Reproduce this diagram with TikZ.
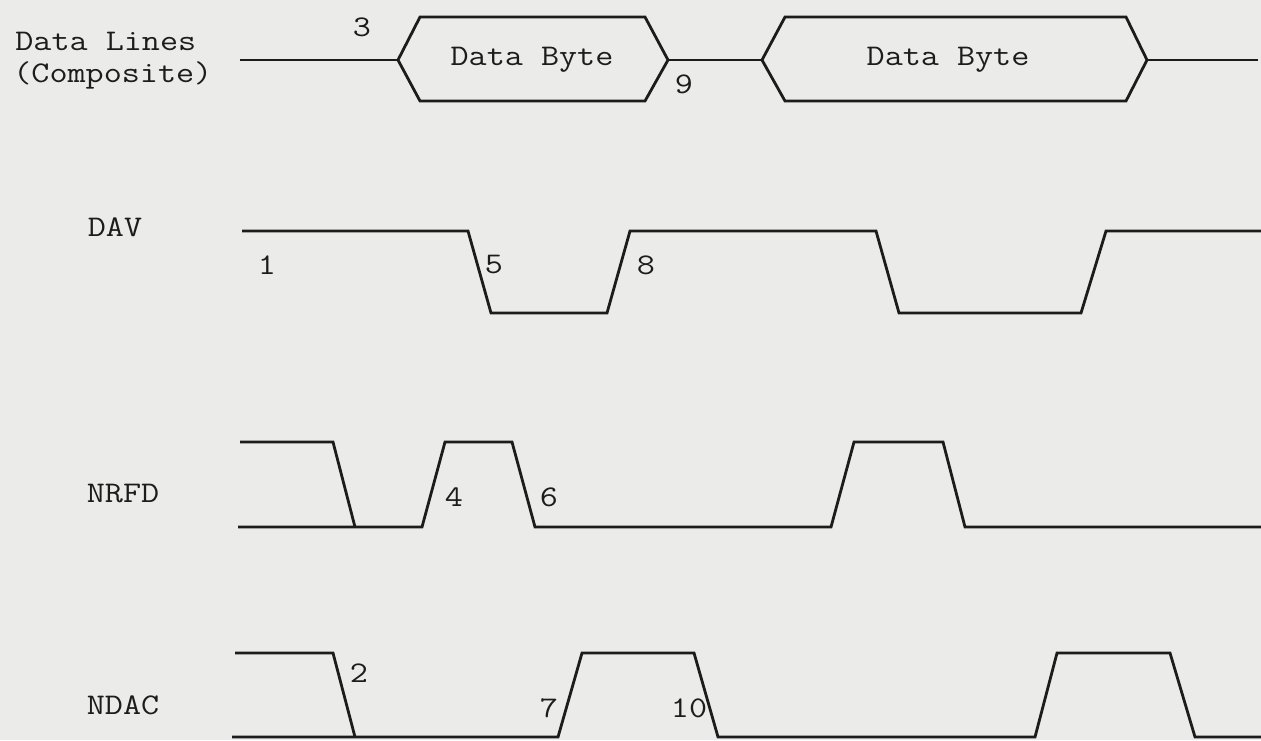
\documentclass[tikz,border=0pt]{standalone}
\usepackage{fontspec}
\setmonofont[FakeStretch=1.17]{Latin Modern Mono}
\definecolor{paper}{RGB}{235,235,233}
\definecolor{ink}{RGB}{28,28,28}
\tikzset{
  wave/.style={draw=ink,line width=1.4pt,line join=miter},
  lbl/.style={font=\ttfamily\fontsize{15}{16}\selectfont,text=ink,inner sep=0pt},
}
\begin{document}
\begin{tikzpicture}[x=0.5pt,y=-0.5pt]
  \fill[paper] (0,0) rectangle (1261,740);
  \useasboundingbox (0,0) rectangle (1261,740);

  % data lines
  \node[lbl,anchor=base west] (dlines) at (15,50) {Data Lines};
  \node[lbl,anchor=base west] (dcomp) at (13,82) {(Composite)};
  \draw[wave] (240,60) -- (398,60);
  \draw[wave] (398,60) -- (420,17) -- (645,17) -- (668,60) -- (645,101) -- (420,101) -- cycle;
  \draw[wave] (668,60) -- (762,60);
  \draw[wave] (762,60) -- (785,17) -- (1126,17) -- (1147,60) -- (1126,101) -- (785,101) -- cycle;
  \draw[wave] (1147,60) -- (1258,60);
  \node[lbl] (byteA) at (532,60) {Data Byte};
  \node[lbl] (byteB) at (948,60) {Data Byte};
  \node[lbl] (n3) at (362,27) {3};
  \node[lbl] (n9) at (684,84) {9};

  % DAV
  \node[lbl] (dav) at (115,227) {DAV};
  \draw[wave] (242,231) -- (468,231) -- (491,313) -- (607,313) -- (630,231) -- (876,231)
    -- (899,313) -- (1081,313) -- (1106,231) -- (1261,231);
  \node[lbl] (n1) at (267,265) {1};
  \node[lbl] (n5) at (494,265) {5};
  \node[lbl] (n8) at (646,265) {8};

  % NRFD
  \node[lbl] (nrfd) at (123,494) {NRFD};
  \draw[wave] (240,442) -- (333,442) -- (355,527);
  \draw[wave] (238,527) -- (422,527) -- (445,442) -- (512,442) -- (535,527) -- (831,527)
    -- (854,442) -- (943,442) -- (965,527) -- (1261,527);
  \node[lbl] (n4) at (454,497) {4};
  \node[lbl] (n6) at (549,497) {6};

  % NDAC
  \node[lbl] (ndac) at (123,705) {NDAC};
  \draw[wave] (235,653) -- (333,653) -- (355,737);
  \draw[wave] (232,737) -- (558,737) -- (582,653) -- (694,653) -- (718,737) -- (1035,737)
    -- (1057,653) -- (1170,653) -- (1195,737) -- (1261,737);
  \node[lbl] (n2) at (359,673) {2};
  \node[lbl] (n7) at (549,708) {7};
  \node[lbl] (n10) at (689,708) {10};
\end{tikzpicture}
\end{document}
